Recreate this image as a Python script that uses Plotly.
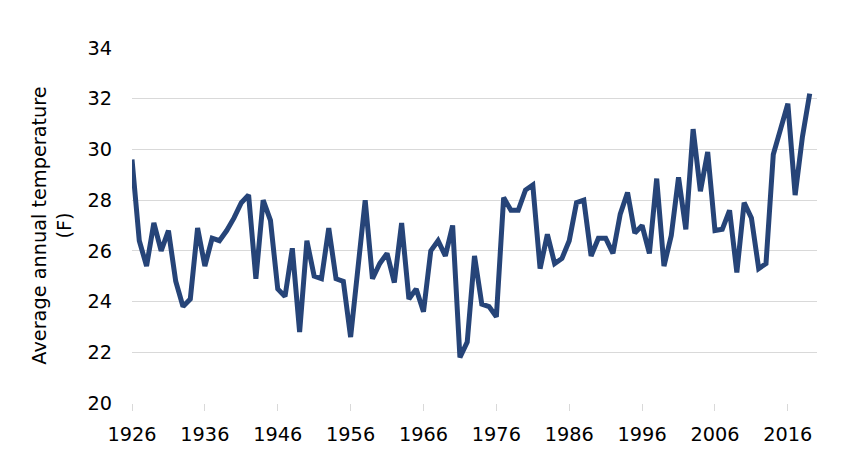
import plotly.graph_objects as go

years = list(range(1926, 2020))
temps = [
    29.6, 26.4, 25.4, 27.1, 26.0, 26.8, 24.8, 23.8, 24.1, 26.9,   # 1926-1935
    25.4, 26.5, 26.4, 26.8, 27.3, 27.9, 28.2, 24.9, 28.0, 27.2,   # 1936-1945
    24.5, 24.2, 26.1, 22.8, 26.4, 25.0, 24.9, 26.9, 24.9, 24.8,   # 1946-1955
    22.6, 25.2, 28.0, 24.9, 25.5, 25.9, 24.75, 27.1, 24.1, 24.5,  # 1956-1965
    23.6, 26.0, 26.4, 25.8, 27.0, 21.8, 22.4, 25.8, 23.9, 23.8,   # 1966-1975
    23.4, 28.1, 27.6, 27.6, 28.4, 28.6, 25.3, 26.65, 25.5, 25.7,  # 1976-1985
    26.4, 27.9, 28.0, 25.8, 26.5, 26.5, 25.9, 27.45, 28.3, 26.7,  # 1986-1995
    27.0, 25.9, 28.85, 25.4, 26.6, 28.9, 26.85, 30.8, 28.35, 29.9,  # 1996-2005
    26.8, 26.85, 27.6, 25.15, 27.9, 27.3, 25.3, 25.5, 29.8, 30.8,   # 2006-2015
    31.8, 28.2, 30.5, 32.2,                                         # 2016-2019
]
x_ticks = list(range(1926, 2021, 10))
y_ticks = list(range(20, 35, 2))

FONT = "Verdana, DejaVu Sans, sans-serif"
FS = 19.3

fig = go.Figure()
fig.add_trace(go.Scatter(
    x=years, y=temps, mode="lines",
    line=dict(color="#264478", width=5),
    hoverinfo="x+y",
))

fig.update_layout(
    width=850, height=460,
    margin=dict(l=124, r=41, t=40, b=65),
    paper_bgcolor="white", plot_bgcolor="white",
    showlegend=False,
    font=dict(family=FONT, size=FS, color="#000000"),
)
fig.update_xaxes(
    range=[1926, 2020], tickvals=x_ticks, ticktext=[str(v) for v in x_ticks],
    showgrid=False, zeroline=False,
    showline=False, automargin=False,
    ticks="outside", ticklen=7, tickcolor="#D9D9D9", tickwidth=1,
    ticklabelstandoff=7,
)
fig.update_yaxes(
    range=[20, 34], tickvals=y_ticks,
    showgrid=True, gridcolor="#D9D9D9", gridwidth=1,
    zeroline=False, showline=False, ticks="", automargin=False,
    ticklabelstandoff=19,
    title=dict(text="Average annual temperature<br>(F)", standoff=10,
               font=dict(family=FONT, size=FS)),
)

fig.write_html("out.html")
